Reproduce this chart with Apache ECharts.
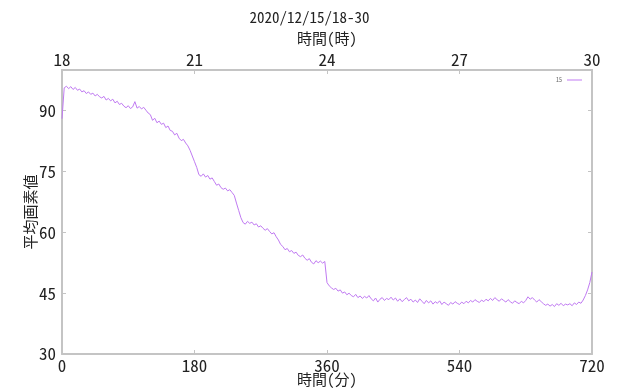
<!DOCTYPE html>
<html>
<head>
<meta charset="utf-8">
<script src="https://cdn.jsdelivr.net/npm/echarts@6/dist/echarts.min.js"></script>
<style>html,body{margin:0;padding:0;background:#fff}#c{width:619px;height:389px}</style>
</head>
<body>
<div id="c"></div>
<script>
// minutes from 18:00, every 3 minutes
const minuteStep = 3;
const seriesName = '15';
const titleText = '2020/12/15/18-30';
const topAxisName = '時間(時)';
const bottomAxisName = '時間(分)';
const yAxisName = '平均画素値';
const hourTicks = [18, 21, 24, 27, 30];
const minuteTicks = [0, 180, 360, 540, 720];
const valueTicks = [30, 45, 60, 75, 90];
const values = [
  88.0, 95.6, 96.0, 95.4, 95.9, 95.2, 95.7, 95.0, 95.3, 94.6,
  94.9, 94.2, 94.6, 94.0, 94.3, 93.6, 94.0, 93.4, 93.1, 93.5,
  92.6, 93.0, 92.4, 92.8, 91.9, 92.3, 91.5, 91.8, 91.1, 90.7,
  91.2, 90.5, 90.9, 92.2, 90.6, 91.0, 90.4, 90.8, 90.1, 89.4,
  89.0, 87.6, 88.1, 87.0, 87.4, 86.6, 86.9, 85.8, 86.2, 85.1,
  84.9, 84.0, 84.4, 83.2, 82.6, 82.9, 82.0, 81.3, 80.2, 78.8,
  77.4, 76.0, 74.2, 73.8, 74.4, 73.6, 74.0, 73.1, 73.4, 72.5,
  71.6, 71.9, 71.0, 70.6, 70.9, 70.2, 70.5, 69.8, 69.1, 67.2,
  65.4, 63.6, 62.4, 62.0, 62.7, 62.2, 62.5, 61.8, 62.1, 61.3,
  61.6, 61.0, 60.5, 60.9, 60.2, 59.6, 59.9, 58.9, 58.1, 57.0,
  56.5, 55.7, 56.0, 55.2, 55.5, 54.8, 55.1, 54.3, 54.0, 54.4,
  53.6, 53.1, 53.5, 52.6, 52.2, 53.0, 52.5, 52.9, 52.4, 52.8,
  47.6, 46.8, 46.3, 45.9, 46.2, 45.5, 45.8, 45.0, 45.3, 44.6,
  45.0, 44.4, 44.1, 44.7, 43.9, 44.3, 43.7, 44.2, 43.8, 44.4,
  43.6, 43.1, 43.8, 42.8, 43.5, 43.9, 43.2, 43.7, 43.4, 44.0,
  43.3, 43.8, 43.0, 43.6, 42.9, 43.4, 43.9, 43.1, 43.5, 42.8,
  43.3, 42.7, 43.6, 43.0, 42.4, 43.2, 42.6, 43.1, 42.3, 42.9,
  42.5, 43.1, 42.2, 42.8, 42.4, 42.0, 42.7, 42.3, 42.9, 42.5,
  42.2, 42.8, 42.4, 43.0, 42.6, 43.2, 42.8, 43.4, 43.0, 42.7,
  43.3, 42.9, 43.5, 43.1, 43.7, 43.2, 43.9, 43.4, 43.0, 43.6,
  43.2, 42.8, 43.4, 42.9, 42.5, 43.1, 42.7, 42.4, 43.0, 42.6,
  43.2, 44.1, 43.5, 43.9, 43.3, 42.8, 43.4, 42.9, 42.4, 42.0,
  42.3, 41.8, 42.2, 41.7, 42.4, 42.0, 42.5, 41.9, 42.3, 42.1,
  42.4, 41.9, 42.6, 42.2, 42.8, 42.5, 43.3, 44.4, 45.8, 47.6,
  50.2
];

const data = values.map((v, i) => [i * minuteStep, v]);
const numFont = '"Noto Sans Mono CJK JP", "Noto Sans CJK JP", "DejaVu Sans Mono", monospace';
const cjkFont = '"Noto Sans Mono CJK JP", "Noto Sans CJK JP", sans-serif';
const axisColor = '#c4c4c4';
const lineColor = '#c07af2';

const chart = echarts.init(document.getElementById('c'), null, {renderer: 'canvas'});
chart.setOption({
  animation: false,
  backgroundColor: '#fff',
  title: {
    text: titleText, left: 'center', top: 5,
    textStyle: {fontFamily: numFont, fontSize: 15, fontWeight: 'normal', color: '#222'}
  },
  legend: {
    data: [seriesName], right: 32, top: 72, align: 'right',
    itemWidth: 15, itemHeight: 4, itemGap: 3,
    textStyle: {fontSize: 6, color: '#666', fontFamily: numFont},
    icon: 'path://M0,1.5L15,1.5L15,2.5L0,2.5Z'
  },
  grid: {left: 62, right: 27, top: 70, bottom: 35, outerBoundsMode: 'none', containLabel: false},
  xAxis: [{
    type: 'value', position: 'bottom', min: minuteTicks[0], max: minuteTicks[minuteTicks.length - 1],
    interval: minuteTicks[1] - minuteTicks[0],
    name: bottomAxisName, nameLocation: 'middle', nameGap: 18, nameMoveOverlap: false,
    nameTextStyle: {fontFamily: cjkFont, fontSize: 15, color: '#222'},
    axisLine: {lineStyle: {color: axisColor, width: 2}},
    axisTick: {inside: true, length: 4, lineStyle: {color: axisColor}},
    axisLabel: {fontFamily: numFont, fontSize: 17, color: '#222', margin: 3},
    splitLine: {show: false}
  }, {
    type: 'value', position: 'top', min: hourTicks[0], max: hourTicks[hourTicks.length - 1],
    interval: hourTicks[1] - hourTicks[0],
    name: topAxisName, nameLocation: 'middle', nameGap: 23,
    nameTextStyle: {fontFamily: cjkFont, fontSize: 15, color: '#222'},
    axisLine: {lineStyle: {color: axisColor, width: 2}},
    axisTick: {inside: true, length: 4, lineStyle: {color: axisColor}},
    axisLabel: {fontFamily: numFont, fontSize: 17, color: '#222', margin: 2},
    splitLine: {show: false}
  }],
  yAxis: [{
    type: 'value', position: 'left', min: valueTicks[0], max: 100,
    interval: valueTicks[1] - valueTicks[0],
    name: yAxisName, nameLocation: 'middle', nameGap: 24, nameRotate: 90, nameMoveOverlap: false,
    nameTextStyle: {fontFamily: cjkFont, fontSize: 15, color: '#222'},
    axisLine: {show: true, lineStyle: {color: axisColor, width: 2}},
    axisTick: {show: true, inside: true, length: 4, lineStyle: {color: axisColor}},
    axisLabel: {fontFamily: numFont, fontSize: 17, color: '#222', margin: 6, showMaxLabel: false},
    splitLine: {show: false}
  }, {
    type: 'value', position: 'right', min: valueTicks[0], max: 100,
    interval: valueTicks[1] - valueTicks[0],
    axisLine: {show: true, lineStyle: {color: axisColor, width: 2}},
    axisTick: {show: true, inside: true, length: 4, lineStyle: {color: axisColor}},
    axisLabel: {show: false},
    splitLine: {show: false}
  }],
  series: [{
    name: seriesName, type: 'line', xAxisIndex: 0, yAxisIndex: 0,
    data: data, showSymbol: false, symbol: 'none',
    lineStyle: {color: lineColor, width: 1}, itemStyle: {color: lineColor}
  }]
});
</script>
</body>
</html>
